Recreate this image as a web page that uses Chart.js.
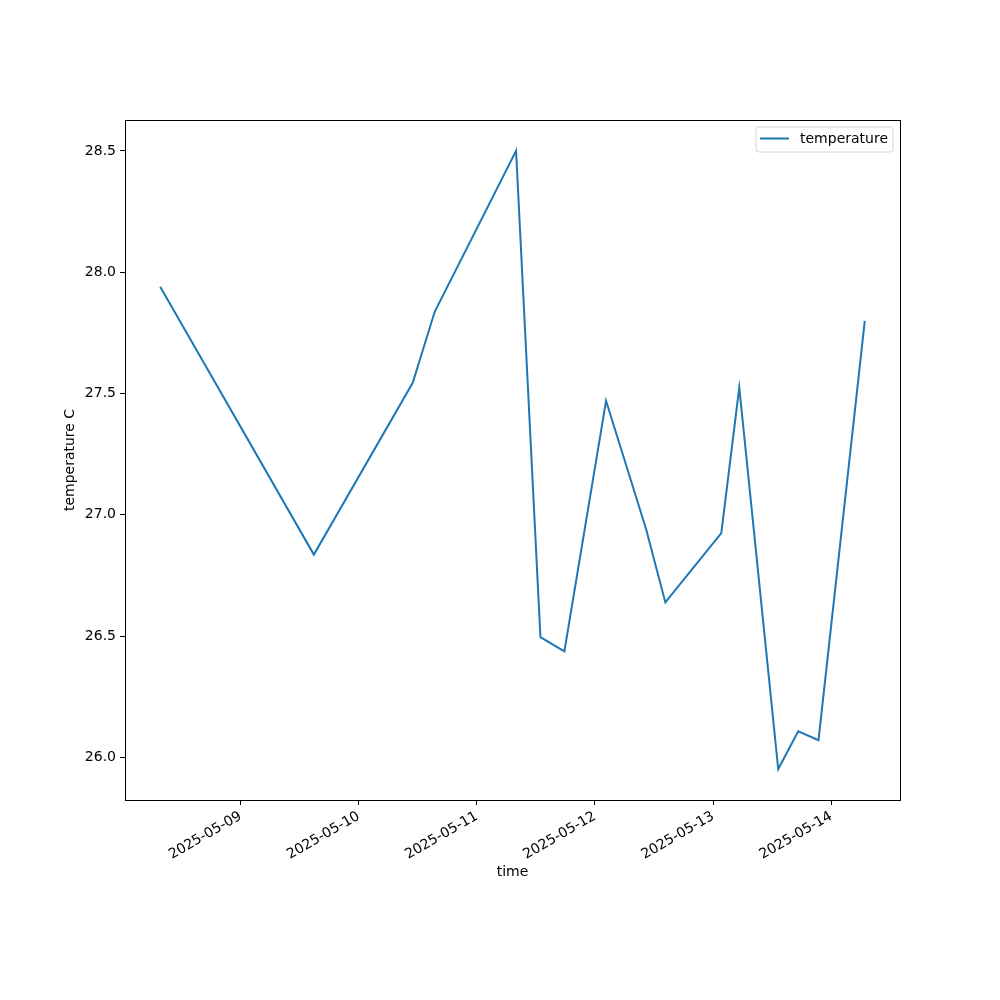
<!DOCTYPE html>
<html>
<head>
<meta charset="utf-8">
<script src="https://cdn.jsdelivr.net/npm/chart.js@4/dist/chart.umd.min.js"></script>
<style>
  html, body { margin: 0; padding: 0; background: #fff; }
  #chart { display: block; }
</style>
</head>
<body>
<canvas id="chart" width="1000" height="1000" style="width:1000px;height:1000px"></canvas>
<script>
// readings (UTC)
var times = [
    '2025-05-08T07:40', '2025-05-09T14:53', '2025-05-10T10:58', '2025-05-10T15:26',
    '2025-05-11T07:58', '2025-05-11T12:55', '2025-05-11T17:47', '2025-05-12T02:15',
    '2025-05-12T10:22', '2025-05-12T14:18', '2025-05-13T01:40', '2025-05-13T05:19',
    '2025-05-13T13:14', '2025-05-13T17:18', '2025-05-13T21:25', '2025-05-14T06:49'
];
var temperatures = [
    27.94, 26.836, 27.544, 27.837,
    28.50, 26.496, 26.437, 27.47,
    26.943, 26.639, 26.925, 27.525,
    25.952, 26.108, 26.071, 27.799
];
var tickDates = ['2025-05-09', '2025-05-10', '2025-05-11', '2025-05-12', '2025-05-13', '2025-05-14'];
var yTicks = [26.0, 26.5, 27.0, 27.5, 28.0, 28.5];
var seriesLabel = 'temperature';

var LINE = '#1f77b4';
var FONT = {family: 'DejaVu Sans', size: 14};

function toMs(s) {
    return Date.parse(s.length > 10 ? s + ':00Z' : s + 'T00:00:00Z');
}

var points = times.map(function (t, i) {
    return {x: toMs(t), y: temperatures[i]};
});

// matplotlib-like 5% margins
var xs = points.map(function (p) { return p.x; });
var xMin = Math.min.apply(null, xs), xMax = Math.max.apply(null, xs);
var xPad = (xMax - xMin) * 0.05;
var yMin = Math.min.apply(null, temperatures), yMax = Math.max.apply(null, temperatures);
var yPad = (yMax - yMin) * 0.05;

var framePlugin = {
    id: 'frameAndLegend',
    afterDraw: function (ch) {
        var ctx = ch.ctx, a = ch.chartArea;
        ctx.save();
        ctx.strokeStyle = '#000';
        ctx.lineWidth = 1;
        ctx.strokeRect(Math.round(a.left) + 0.5, Math.round(a.top) + 0.5,
            Math.round(a.right - a.left), Math.round(a.bottom - a.top));

        // legend box, upper right
        var w = 137, h = 25, x = a.right - 7 - w, y = a.top + 7, r = 3;
        ctx.beginPath();
        ctx.moveTo(x + r, y);
        ctx.arcTo(x + w, y, x + w, y + h, r);
        ctx.arcTo(x + w, y + h, x, y + h, r);
        ctx.arcTo(x, y + h, x, y, r);
        ctx.arcTo(x, y, x + w, y, r);
        ctx.closePath();
        ctx.fillStyle = 'rgba(255,255,255,0.8)';
        ctx.fill();
        ctx.strokeStyle = '#d6d6d6';
        ctx.stroke();

        ctx.strokeStyle = LINE;
        ctx.lineWidth = 2;
        ctx.beginPath();
        ctx.moveTo(x + 4, y + 11.5);
        ctx.lineTo(x + 33, y + 11.5);
        ctx.stroke();

        ctx.fillStyle = '#000';
        ctx.font = '14px "DejaVu Sans"';
        ctx.textBaseline = 'middle';
        ctx.textAlign = 'left';
        ctx.fillText(ch.data.datasets[0].label, x + 44, y + 12);
        ctx.restore();
    }
};

new Chart(document.getElementById('chart'), {
    type: 'line',
    data: {
        datasets: [{
            label: seriesLabel,
            data: points,
            borderColor: LINE,
            backgroundColor: LINE,
            borderWidth: 2,
            pointRadius: 0,
            tension: 0,
            fill: false
        }]
    },
    options: {
        responsive: false,
        animation: false,
        layout: {padding: {left: 58, right: 100, top: 120, bottom: 115}},
        plugins: {
            legend: {display: false},
            tooltip: {enabled: false}
        },
        scales: {
            x: {
                type: 'linear',
                min: xMin - xPad,
                max: xMax + xPad,
                afterBuildTicks: function (axis) {
                    axis.ticks = tickDates.map(function (d) { return {value: toMs(d)}; });
                },
                afterFit: function (axis) { axis.height = 85; },
                grid: {display: true, drawOnChartArea: false, drawTicks: true, tickLength: 5, color: '#000'},
                border: {display: true, color: '#000'},
                ticks: {
                    font: FONT,
                    color: '#000',
                    padding: 3,
                    minRotation: 30,
                    maxRotation: 30,
                    autoSkip: false,
                    callback: function (v) {
                        return new Date(v).toISOString().slice(0, 10);
                    }
                },
                title: {display: true, text: 'time', font: FONT, color: '#000', padding: {top: 4, bottom: 4}}
            },
            y: {
                type: 'linear',
                min: yMin - yPad,
                max: yMax + yPad,
                afterBuildTicks: function (axis) {
                    axis.ticks = yTicks.map(function (v) { return {value: v}; });
                },
                afterFit: function (axis) { axis.width = 67; },
                grid: {display: true, drawOnChartArea: false, drawTicks: true, tickLength: 5, color: '#000'},
                border: {display: true, color: '#000'},
                ticks: {
                    font: FONT,
                    color: '#000',
                    padding: 4,
                    callback: function (v) { return Number(v).toFixed(1); }
                },
                title: {display: true, text: 'temperature C', font: FONT, color: '#000', padding: {top: 4, bottom: 4}}
            }
        }
    },
    plugins: [framePlugin]
});
</script>
</body>
</html>
